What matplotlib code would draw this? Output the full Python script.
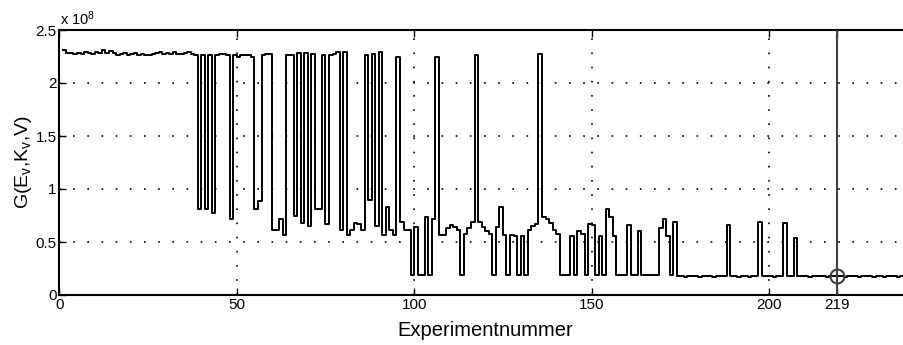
import matplotlib
matplotlib.use('Agg')
import matplotlib.pyplot as plt
import numpy as np

g_start = [2.31, 2.28, 2.28, 2.27, 2.28, 2.27, 2.29, 2.28, 2.27, 2.29,   # 1-10
           2.28, 2.31, 2.28, 2.30, 2.28, 2.26, 2.27, 2.28, 2.26, 2.27,   # 11-20
           2.28, 2.26, 2.27, 2.26, 2.26, 2.27, 2.28, 2.29, 2.27, 2.28,   # 21-30
           2.27, 2.29, 2.27, 2.27, 2.28, 2.29, 2.27, 2.26]               # 31-38
g_mixed = [0.81, 2.26, 0.81, 2.26, 0.77, 2.26, 2.27, 2.27, 2.26, 0.72,  # 39-48
           2.26, 2.25, 2.26, 2.26, 2.26, 2.25, 0.81, 0.89, 2.26, 2.27,  # 49-58
           2.27, 0.61, 0.61, 0.72, 0.57, 2.26, 2.26, 0.75, 2.28, 0.68,  # 59-68
           2.28, 0.65, 2.27, 0.81, 0.81, 2.26, 0.67, 2.26, 2.27, 2.29,  # 69-78
           0.61, 2.29, 0.57, 0.61, 0.68, 0.67, 0.61, 2.26, 0.90, 2.27,  # 79-88
           0.65, 2.29, 0.57, 0.83, 0.61, 0.57, 2.25, 0.69, 0.61, 0.61,  # 89-98
           0.19, 0.64, 0.19, 0.19, 0.74, 0.19, 0.72, 2.25, 0.57, 0.57,  # 99-108
           0.63, 0.66, 0.64, 0.61, 0.19, 0.58, 0.63, 0.69, 2.26, 0.69,  # 109-118
           0.64, 0.60, 0.58, 0.19, 0.64, 0.83, 0.57, 0.19, 0.57, 0.56,  # 119-128
           0.19, 0.56, 0.19, 0.61, 0.65, 0.67, 2.27, 0.74, 0.72, 0.68,  # 129-138
           0.61, 0.58, 0.19, 0.19, 0.19, 0.56, 0.19, 0.60, 0.58, 0.19,  # 139-148
           0.67, 0.66, 0.19, 0.56, 0.19, 0.81, 0.74, 0.56, 0.19, 0.19,  # 149-158
           0.19, 0.66, 0.19, 0.19, 0.60, 0.19, 0.19, 0.19, 0.19, 0.19,  # 159-168
           0.63, 0.72, 0.56, 0.19, 0.69]                                # 169-173
g_end = [0.18, 0.18, 0.17, 0.18, 0.18, 0.18, 0.17, 0.18, 0.18, 0.18,    # 174-183
         0.17, 0.18, 0.18, 0.18, 0.66, 0.18, 0.18, 0.17, 0.18, 0.18,    # 184-193
         0.17, 0.18, 0.18, 0.69, 0.18, 0.18, 0.18, 0.17, 0.18, 0.18,    # 194-203
         0.68, 0.18, 0.18, 0.54, 0.18, 0.18, 0.18, 0.17, 0.18, 0.18,    # 204-213
         0.18, 0.18, 0.17, 0.18, 0.18, 0.18, 0.18, 0.17, 0.18, 0.18,    # 214-223
         0.18, 0.17, 0.18, 0.18, 0.18, 0.17, 0.18, 0.18, 0.17, 0.18,    # 224-233
         0.18, 0.18, 0.17, 0.18, 0.18, 0.18, 0.18]                      # 234-240
g_values = np.array(g_start + g_mixed + g_end) * 1e8
experiments = np.arange(1, len(g_values) + 1)

best_exp = 219
x_ticks = [0, 50, 100, 150, 200, best_exp]
y_ticks = [0, 0.5e8, 1e8, 1.5e8, 2e8, 2.5e8]
y_ticklabels = ['0', '0.5', '1', '1.5', '2', '2.5']

plt.rcParams['font.family'] = ['Liberation Sans', 'DejaVu Sans']
plt.rcParams['mathtext.fontset'] = 'custom'
plt.rcParams['mathtext.rm'] = 'Liberation Sans'
plt.rcParams['mathtext.it'] = 'Liberation Sans'

fig = plt.figure(figsize=(9.04, 3.45), dpi=100)
# rechter Rand liegt ausserhalb des Bildes (wie in der Vorlage abgeschnitten)
ax = fig.add_axes([59.3 / 904, 50 / 345, 240 * 3.549 / 904, 265 / 345])

# MATLAB-artiges Punktraster
grid_style = dict(color='black', linewidth=1.2, linestyle=(0, (1, 7.5)), zorder=1)
for xv in [50, 100, 150, 200]:
    ax.axvline(xv, **grid_style)
for yv in y_ticks[1:-1]:
    ax.axhline(yv, **grid_style)

ax.step(experiments, g_values, where='post', color='black', linewidth=1.4, zorder=3)

# Markierung des besten Experiments
ax.axvline(best_exp, color='#404040', linewidth=1.5, zorder=4)
ax.plot(best_exp, g_values[best_exp - 1], 'o', markersize=10, markerfacecolor='none',
        markeredgecolor='#404040', markeredgewidth=1.5, zorder=5)

ax.set_xlim(0, 240)
ax.set_ylim(0, 2.5e8)
ax.set_xticks(x_ticks)
ax.set_xticklabels([str(t) for t in x_ticks], fontsize=11)
ax.set_yticks(y_ticks)
ax.set_yticklabels(y_ticklabels, fontsize=11)
ax.tick_params(direction='in', length=5, width=1.0, top=True, right=True, pad=2)
for sp in ax.spines.values():
    sp.set_linewidth(1.5)

ax.set_xlabel('Experimentnummer', fontsize=14.5, labelpad=7)
ax.set_ylabel(r'G(E$_\mathrm{v}$,K$_\mathrm{v}$,V)', fontsize=14, labelpad=1)
fig.text(59.5 / 904, 1 - 25 / 345, r'x 10$^{8}$', fontsize=10.5, ha='left', va='baseline')

fig.savefig('out.png', dpi=100)
